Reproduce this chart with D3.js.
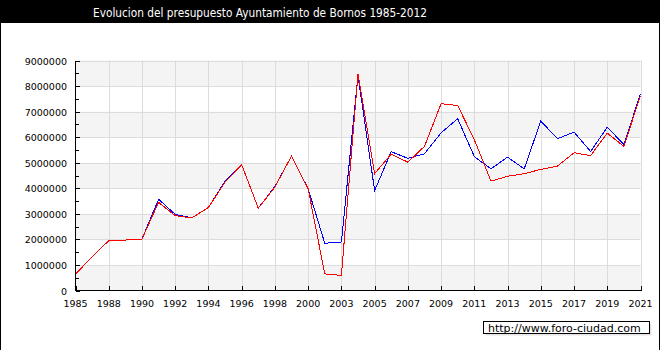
<!DOCTYPE html>
<html>
<head>
<meta charset="utf-8">
<script src="https://d3js.org/d3.v7.min.js"></script>
<style>
  body { margin: 0; background: #fff; }
  text { font-family: "DejaVu Sans", Verdana, sans-serif; }
</style>
</head>
<body>
<script>
    // years with data (one point per year, evenly spaced)
    let years = ["1985","1987","1988","1989","1990","1991","1992","1993","1994","1995","1996","1997",
                 "1998","1999","2000","2002","2003","2004","2005","2006","2007","2008","2009","2010",
                 "2011","2012","2013","2014","2015","2016","2017","2018","2019","2020","2021"];

    // labels on the x axis
    let xLabels = ["1985","1988","1990","1992","1994","1996","1998","2000","2003","2005","2007",
                   "2009","2011","2013","2015","2017","2019","2021"];

    let yTicks = [0, 1000000, 2000000, 3000000, 4000000, 5000000, 6000000, 7000000, 8000000, 9000000];

    // serie azul
    let blueValues = [650000,1320000,1950000,1975000,2015000,3570000,2980000,2840000,3250000,4280000,4920000,3220000,
                      4070000,5260000,3980000,1850000,1900000,8410000,3910000,5430000,5170000,5350000,6170000,6720000,
                      5240000,4760000,5220000,4760000,6630000,5940000,6200000,5440000,6390000,5710000,7700000];

    // serie roja
    let redValues = [640000,1320000,1950000,1975000,2015000,3450000,2930000,2840000,3250000,4240000,4920000,3220000,
                     4050000,5260000,3980000,650000,590000,8480000,4570000,5340000,5020000,5640000,7310000,7240000,
                     5900000,4280000,4470000,4570000,4740000,4870000,5390000,5280000,6160000,5640000,7630000];

    let width = 660, height = 350;
    let pLeft = 75.5, pRight = 640.5, pTop = 60.5, pBottom = 290.5;

    let svg = d3.select("body").append("svg")
        .attr("width", width)
        .attr("height", height);

    svg.append("rect").attr("width", width).attr("height", height).attr("fill", "#fff");

    // barra del titulo
    svg.append("rect").attr("x", 0).attr("y", 0).attr("width", width).attr("height", 23).attr("fill", "#000");
    svg.append("text")
        .attr("x", 93).attr("y", 17)
        .attr("fill", "#fff")
        .attr("font-size", "12px")
        .attr("textLength", 334)
        .attr("lengthAdjust", "spacingAndGlyphs")
        .text("Evolucion del presupuesto Ayuntamiento de Bornos 1985-2012");

    // bordes laterales
    svg.append("rect").attr("x", 0).attr("y", 0).attr("width", 1).attr("height", height).attr("fill", "#000");
    svg.append("rect").attr("x", width - 1).attr("y", 0).attr("width", 1).attr("height", height).attr("fill", "#000");

    let x = d3.scalePoint()
        .domain(years)
        .range([pLeft, pRight]);

    let y = d3.scaleLinear()
        .domain([0, 9000000])
        .range([pBottom, pTop]);

    // bandas alternas
    svg.append("g")
        .selectAll("rect")
        .data(yTicks.slice(0, -1).filter((d, i) => i % 2 == 0))
        .join("rect")
            .attr("x", pLeft)
            .attr("y", d => y(d + 1000000))
            .attr("width", pRight - pLeft)
            .attr("height", d => y(d) - y(d + 1000000))
            .attr("fill", "#f4f4f4");

    // rejilla
    svg.append("g")
        .selectAll("line")
        .data(yTicks.slice(1))
        .join("line")
            .attr("x1", pLeft).attr("x2", pRight)
            .attr("y1", d => Math.round(y(d)) + 0.5).attr("y2", d => Math.round(y(d)) + 0.5)
            .attr("stroke", "#dcdcdc");

    svg.append("g")
        .selectAll("line")
        .data(xLabels.slice(1))
        .join("line")
            .attr("x1", d => Math.round(x(d)) + 0.5).attr("x2", d => Math.round(x(d)) + 0.5)
            .attr("y1", pTop).attr("y2", pBottom)
            .attr("stroke", "#dcdcdc");

    // lineas
    let line = d3.line()
        .x((d, i) => x(years[i]))
        .y(d => y(d));

    svg.append("path")
        .attr("d", line(blueValues))
        .attr("fill", "none")
        .attr("stroke", "#0000ff")
        .attr("stroke-width", 1)
        .attr("shape-rendering", "crispEdges");

    svg.append("path")
        .attr("d", line(redValues))
        .attr("fill", "none")
        .attr("stroke", "#ff0000")
        .attr("stroke-width", 1)
        .attr("shape-rendering", "crispEdges");

    // ejes
    let axes = svg.append("g").attr("stroke", "#000").attr("shape-rendering", "crispEdges");
    axes.append("line").attr("x1", pLeft).attr("x2", pLeft).attr("y1", pTop).attr("y2", pBottom);
    axes.append("line").attr("x1", pLeft).attr("x2", pRight).attr("y1", pBottom).attr("y2", pBottom);

    axes.selectAll(".ytick")
        .data(d3.range(0, 9000001, 500000))
        .join("line")
            .attr("class", "ytick")
            .attr("x1", pLeft).attr("x2", d => pLeft + (d % 1000000 == 0 ? 4 : 3))
            .attr("y1", d => Math.round(y(d)) + 0.5).attr("y2", d => Math.round(y(d)) + 0.5);

    axes.selectAll(".xtick")
        .data(xLabels)
        .join("line")
            .attr("class", "xtick")
            .attr("x1", d => Math.round(x(d)) + 0.5).attr("x2", d => Math.round(x(d)) + 0.5)
            .attr("y1", pBottom - 5).attr("y2", pBottom);

    svg.append("g")
        .selectAll("text")
        .data(yTicks)
        .join("text")
            .attr("x", 67)
            .attr("y", d => y(d) + 4)
            .attr("text-anchor", "end")
            .attr("font-size", "9.5px")
            .attr("fill", "#000")
            .text(d => d);

    svg.append("g")
        .selectAll("text")
        .data(xLabels)
        .join("text")
            .attr("x", d => x(d))
            .attr("y", 307)
            .attr("text-anchor", "middle")
            .attr("font-size", "9.5px")
            .attr("fill", "#000")
            .text(d => d);

    // marca de agua
    svg.append("rect").attr("x", 485.5).attr("y", 323.5).attr("width", 166).attr("height", 12).attr("fill", "#e4e4e4");
    svg.append("rect").attr("x", 483.5).attr("y", 321.5).attr("width", 166).attr("height", 12)
        .attr("fill", "#fff").attr("stroke", "#000");
    svg.append("text")
        .attr("x", 488).attr("y", 331.5)
        .attr("font-size", "11px")
        .attr("fill", "#000")
        .text("http://www.foro-ciudad.com");
</script>
</body>
</html>
